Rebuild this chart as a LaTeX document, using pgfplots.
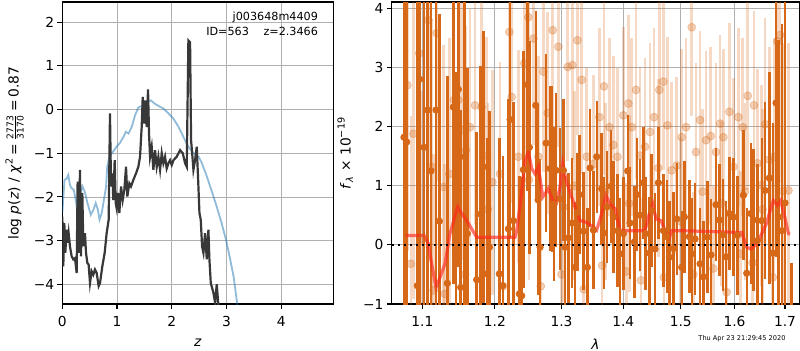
\documentclass[border=0pt]{standalone}
\usepackage{fontspec}
\setmainfont{DejaVu Sans}
\usepackage{pgfplots}
\usepackage{pgfplotstable}
\pgfplotsset{compat=1.18}
\definecolor{darkor}{RGB}{214,104,24}
\definecolor{pzblue}{RGB}{31,119,180}
\definecolor{gridgray}{RGB}{176,176,176}
\definecolor{modred}{RGB}{255,40,30}

\pgfplotstableread{
x y e
1.0760 1.82 5.0
1.0795 1.74 5.0
1.0934 -0.69 5.0
1.0965 2.80 5.0
1.1022 1.65 4.5
1.1071 2.28 4.0
1.1115 1.25 4.0
1.1182 2.28 4.0
1.1227 0.40 3.5
1.1335 -0.65 3.5
1.1417 2.33 3.0
1.1454 -0.07 3.0
1.1486 2.63 3.0
1.1518 -0.72 3.0
1.1573 1.49 2.8
1.1611 0.19 2.8
1.1741 -0.59 2.5
1.1798 0.52 2.5
1.1836 1.32 2.3
1.1884 -0.49 2.3
1.1922 -0.04 2.3
1.2065 -0.49 2.3
1.2114 -0.69 2.2
1.2197 0.27 2.2
1.2221 2.12 2.0
1.2270 0.41 2.0
1.2358 -0.83 2.0
1.2393 -0.86 2.0
1.2418 1.27 2.0
1.2478 2.71 1.8
1.2508 1.65 1.8
1.2604 2.36 1.6
1.2639 0.76 1.6
1.2670 -0.04 1.5
1.2761 1.72 1.5
1.2823 1.29 1.4
1.2848 1.28 1.4
1.2884 0.69 1.3
1.2915 1.26 1.3
1.2977 0.78 1.2
1.3029 1.26 1.2
1.3055 -0.04 1.2
1.3107 0.12 1.1
1.3160 0.37 1.1
1.3213 -0.38 1.1
1.3250 0.55 1.0
1.3282 0.85 1.0
1.3346 0.23 1.0
1.3410 -0.38 1.0
1.3453 1.30 1.0
1.3507 0.25 1.0
1.3561 1.49 0.95
1.3642 0.95 0.95
1.3681 0.20 0.95
1.3725 0.64 0.95
1.3796 0.99 0.95
1.3835 0.47 0.95
1.3907 0.24 0.95
1.3946 -0.15 0.95
1.4002 0.19 0.95
1.4075 1.25 0.95
1.4114 0.37 0.95
1.4188 0.05 0.95
1.4228 0.85 0.95
1.4285 0.50 0.95
1.4342 1.05 0.95
1.4382 0.19 0.95
1.4446 -0.14 0.95
1.4486 0.58 0.95
1.4544 -0.07 0.95
1.4603 1.05 0.95
1.4691 0.24 0.95
1.4750 0.14 0.95
1.4797 -0.21 0.95
1.4868 -0.06 0.95
1.4928 0.44 0.95
1.5018 -0.38 0.95
1.5066 0.47 0.95
1.5157 0.14 0.95
1.5199 -0.15 0.95
1.5260 0.10 0.95
1.5352 -0.32 0.95
1.5413 -0.54 0.95
1.5487 0.13 0.95
1.5556 -0.17 0.95
1.5649 0.68 0.95
1.5712 0.42 0.95
1.5775 0.17 0.95
1.5838 -0.20 0.95
1.5902 0.53 0.95
1.5978 0.47 1.0
1.6056 0.16 1.0
1.6172 0.84 1.1
1.6237 -0.48 1.1
1.6315 0.53 1.2
1.6367 0.42 1.2
1.6446 0.07 1.3
1.6532 0.41 1.4
1.6598 0.92 1.5
1.6684 1.13 1.8
1.6751 -0.14 2.2
1.6818 2.40 2.6
1.6866 0.47 3.0
1.6933 0.24 3.5
1.7001 0.71 3.5
1.7137 -1.60 1.3
}\darktab

\pgfplotstableread{
x y e
1.0804 2.70 2.8
1.0850 -0.32 2.5
1.0882 1.88 2.8
1.0960 3.24 2.8
1.1000 0.10 2.5
1.1079 3.80 2.6
1.1124 1.32 2.5
1.1150 -0.77 2.3
1.1191 3.58 2.5
1.1281 0.98 2.4
1.1300 -0.83 2.2
1.1362 1.20 2.3
1.1426 2.45 2.2
1.1486 2.45 2.2
1.1532 1.94 2.2
1.1580 -0.50 2.0
1.1592 1.60 2.1
1.1648 1.99 2.0
1.1718 2.36 2.0
1.1812 2.33 2.0
1.1884 1.51 2.0
1.1900 0.60 1.8
1.1964 1.06 1.9
1.2075 1.20 1.9
1.2120 -0.70 1.8
1.2211 3.60 1.8
1.2245 2.50 1.8
1.2343 1.49 1.8
1.2433 3.07 1.8
1.2493 3.85 1.8
1.2500 1.10 1.7
1.2568 3.49 1.8
1.2644 1.49 1.7
1.2680 -0.70 1.7
1.2720 2.93 1.7
1.2786 2.23 1.7
1.2863 3.63 1.7
1.2951 3.35 1.7
1.3000 -0.50 1.6
1.3029 0.64 1.6
1.3097 3.01 1.6
1.3170 3.04 1.6
1.3200 1.00 1.6
1.3250 3.46 1.6
1.3319 2.79 1.6
1.3350 -0.75 1.5
1.3399 1.49 1.5
1.3507 1.37 1.5
1.3604 2.16 1.5
1.3650 -0.35 1.5
1.3681 2.68 1.5
1.3700 0.90 1.5
1.3769 1.99 1.5
1.3835 1.69 1.5
1.3902 1.49 1.5
1.4002 2.19 1.5
1.4050 -0.45 1.5
1.4087 2.39 1.5
1.4100 0.70 1.5
1.4143 1.99 1.5
1.4217 2.62 1.5
1.4285 1.51 1.5
1.4300 -0.60 1.4
1.4371 1.66 1.5
1.4457 1.91 1.5
1.4527 2.16 1.5
1.4600 1.30 1.5
1.4620 2.62 1.5
1.4691 2.76 1.5
1.4700 -0.55 1.4
1.4762 2.02 1.5
1.4839 1.26 1.5
1.4928 1.34 1.5
1.5000 0.40 1.4
1.5018 1.82 1.5
1.5097 1.99 1.5
1.5199 3.68 1.5
1.5230 -0.50 1.4
1.5279 1.57 1.5
1.5352 2.11 1.5
1.5400 0.90 1.4
1.5463 1.77 1.5
1.5550 1.84 1.5
1.5600 -0.40 1.4
1.5649 1.57 1.5
1.5725 2.05 1.5
1.5750 0.70 1.4
1.5788 1.82 1.5
1.5850 -0.80 1.4
1.5902 2.25 1.5
1.5978 1.32 1.5
1.6075 2.16 1.5
1.6120 -0.15 1.4
1.6159 1.99 1.5
1.6200 0.90 1.5
1.6256 2.52 1.6
1.6350 -0.30 1.5
1.6380 2.36 1.6
1.6446 1.38 1.6
1.6532 1.01 1.7
1.6550 0.60 1.7
1.6598 2.04 1.8
1.6684 1.44 1.9
1.6750 -0.55 2.0
1.6778 1.49 2.0
1.6845 3.44 2.2
1.6899 3.55 2.5
1.6953 0.91 2.5
1.7069 0.92 2.5
}\lighttab

\begin{document}
\begin{tikzpicture}[font=\fontsize{6.9}{8.3}\selectfont]
\useasboundingbox (0,0) rectangle (400pt,175pt);
\pgfplotsset{
  mystyle/.style={
    scale only axis, height=151pt, anchor=south west,
    grid=major, grid style={line width=0.4pt, draw=gridgray},
    axis line style={line width=0.55pt},
    tick align=outside, major tick length=2.4pt,
    tick style={line width=0.55pt, black},
    xtick pos=left, ytick pos=left,
    every tick label/.append style={inner sep=1.5pt},
    xticklabel style={yshift=-2pt},
    every axis x label/.append style={yshift=-1pt},
  }
}
% ---------------- left panel ----------------
\begin{axis}[mystyle, at={(31.15pt,23pt)}, width=135.5pt,
  xmin=0, xmax=4.95, ymin=-4.45, ymax=2.46,
  xtick={0,1,2,3,4}, xticklabels={0,1,2,3,4},
  ytick={-4,-3,-2,-1,0,1,2}, yticklabels={−4,−3,−2,−1,0,1,2},
  xlabel={\textit{z}},
  ylabel={log \textit{p}(\textit{z}) / \textit{χ}\textsuperscript{2}\,=\,$\frac{\mbox{\fontsize{4.6}{5}\selectfont 2773}}{\mbox{\fontsize{4.6}{5}\selectfont 3170}}$\,=\,0.87},
]
\addplot[pzblue, opacity=0.5, line width=0.9pt] coordinates {
(0,-2.37) (0.04,-1.61) (0.08,-1.58) (0.11,-1.5) (0.14,-1.73) (0.17,-1.8) (0.21,-1.84) (0.25,-2.1) (0.27,-2.29) (0.31,-1.99) (0.37,-1.76) (0.41,-1.88) (0.46,-2.14) (0.52,-2.41) (0.57,-2.29) (0.61,-2.14) (0.65,-2.29) (0.68,-2.52) (0.72,-2.37) (0.76,-2.07) (0.80,-1.76) (0.82,-1.31) (0.86,-1.08) (0.93,-0.96) (0.99,-0.85) (1.05,-0.77) (1.12,-0.62) (1.16,-0.51) (1.21,-0.55) (1.27,-0.39) (1.33,-0.13) (1.39,0.05) (1.45,0.08) (1.54,0.17) (1.62,0.21) (1.68,0.14) (1.76,0.08) (1.85,0.02) (1.94,-0.09) (2.03,-0.21) (2.12,-0.39) (2.21,-0.62) (2.30,-0.85) (2.40,-1.0) (2.49,-1.08) (2.55,-1.23) (2.64,-1.53) (2.73,-1.87) (2.82,-2.22) (2.91,-2.6) (2.99,-2.98) (3.07,-3.45) (3.13,-3.83) (3.19,-4.4) (3.24,-4.8)
};
\addplot[black!78, line width=1.1pt] coordinates {
(0,-2.45) (0.018,-3.59) (0.037,-2.60) (0.055,-3.28) (0.079,-2.75) (0.098,-3.05) (0.116,-2.83) (0.140,-3.13) (0.171,-3.36) (0.201,-3.43) (0.232,-3.40) (0.262,-3.74) (0.280,-1.65) (0.299,-3.28) (0.323,-1.38) (0.341,-3.36) (0.366,-1.91) (0.384,-3.13) (0.414,-2.83) (0.433,-3.28) (0.457,-3.51) (0.481,-3.55) (0.506,-3.97) (0.536,-3.70) (0.567,-3.78) (0.597,-3.66) (0.628,-3.74) (0.664,-4.04) (0.689,-3.97) (0.731,-3.59) (0.774,-3.28) (0.810,-2.83) (0.847,-2.52) (0.871,-0.09) (0.890,-1.76) (0.914,-1.46) (0.932,-2.07) (0.957,-1.16) (0.975,-2.14) (0.993,-2.26) (1.018,-1.91) (1.042,-2.37) (1.073,-1.76) (1.103,-2.07) (1.133,-1.84) (1.164,-1.31) (1.188,-1.99) (1.225,-1.69) (1.255,-1.76) (1.298,-1.61) (1.347,-1.46) (1.389,-1.31) (1.420,-1.08) (1.450,-0.40) (1.469,0.29) (1.493,-0.32) (1.517,0.21) (1.542,-0.40) (1.566,0.46) (1.584,-0.55) (1.603,-1.08) (1.633,-0.85) (1.664,-1.38) (1.694,-0.93) (1.725,-1.31) (1.755,-1.08) (1.786,-1.38) (1.816,-1.00) (1.846,-1.23) (1.877,-1.08) (1.907,-1.35) (1.938,-1.23) (1.968,-1.16) (1.999,-1.27) (2.029,-1.16) (2.090,-1.08) (2.151,-0.93) (2.200,-1.00) (2.243,-1.23) (2.273,-1.31) (2.303,1.58) (2.334,1.54) (2.352,-0.70) (2.377,-1.08) (2.395,-1.38) (2.425,-1.16) (2.456,-0.85) (2.486,-1.76) (2.505,-2.37) (2.529,-2.52) (2.553,-3.13) (2.578,-3.28) (2.608,-2.83) (2.639,-3.43) (2.669,-2.75) (2.687,-3.43) (2.712,-3.97) (2.760,-4.19) (2.791,-4.42) (2.821,-4.00) (2.852,-4.50) (2.882,-5.10)
};
\node[anchor=north east, align=right, inner sep=0pt, font=\fontsize{5.6}{7.4}\selectfont] at (rel axis cs:0.945,0.968) {j003648m4409\\ID=563\hspace{1.3em}z=2.3466};
\end{axis}
% ---------------- right panel ----------------
\begin{axis}[mystyle, at={(195.85pt,23pt)}, width=203.8pt,
  xmode=log, xmin=1.0603, xmax=1.7294, ymin=-1, ymax=4.107,
  xtick={1.1,1.2,1.3,1.4,1.5,1.6,1.7}, xticklabels={1.1,1.2,1.3,1.4,1.5,1.6,1.7},
  minor xtick={},
  ytick={-1,0,1,2,3,4}, yticklabels={−1,0,1,2,3,4},
  xlabel={\textit{λ}},
  ylabel={\textit{f}\textsubscript{\textit{λ}} × 10\textsuperscript{−19}},
]
\addplot[color=darkor, only marks, mark=*, mark size=2pt,
  mark options={solid, draw=darkor, fill=darkor, opacity=0.3},
  error bars/.cd, y dir=both, y explicit, error mark=none,
  error bar style={line width=1.3pt, draw=darkor, opacity=0.25}]
  table[x=x, y=y, y error=e] {\lighttab};
\addplot[color=darkor, only marks, mark=*, mark size=1.6pt,
  mark options={solid, draw=darkor, fill=darkor},
  error bars/.cd, y dir=both, y explicit, error mark=none,
  error bar style={line width=1.2pt, draw=darkor}]
  table[x=x, y=y, y error=e] {\darktab};
\addplot[modred, opacity=0.65, line width=1.6pt] coordinates {
(1.0786,0.16) (1.1022,0.16) (1.1079,0.02) (1.1124,-0.32) (1.1182,-0.72) (1.1236,-0.55) (1.1303,-0.32) (1.1371,0.19) (1.1476,0.64) (1.1532,0.53) (1.1602,0.41) (1.1671,0.27) (1.1741,0.13) (1.2294,0.13) (1.2319,0.24) (1.2378,0.75) (1.2443,1.43) (1.2493,1.57) (1.2543,1.29) (1.2594,1.20) (1.2644,1.32) (1.2710,0.81) (1.2761,0.89) (1.2796,0.95) (1.2863,0.75) (1.2925,0.72) (1.2977,0.98) (1.3019,1.37) (1.3071,1.09) (1.3134,0.89) (1.3213,0.64) (1.3293,0.41) (1.3399,0.38) (1.3507,0.30) (1.3561,0.25) (1.3642,0.53) (1.3714,0.84) (1.3780,0.69) (1.3863,0.61) (1.3946,0.24) (1.4002,0.24) (1.4371,0.24) (1.4446,0.53) (1.4504,0.69) (1.4562,0.44) (1.4650,0.41) (1.4739,0.19) (1.4797,0.12) (1.4839,0.24) (1.4988,0.24) (1.6140,0.21) (1.6237,-0.04) (1.6315,-0.07) (1.6400,-0.01) (1.6499,0.13) (1.6631,0.37) (1.6698,0.58) (1.6765,0.75) (1.6845,0.67) (1.6912,0.75) (1.6980,0.53) (1.7069,0.19) (1.7103,0.18)
};
\addplot[black, line width=1pt, dash pattern=on 1.2pt off 1.8pt] coordinates {(1.0603,0) (1.7294,0)};
\end{axis}
\node[font=\fontsize{3.3}{4}\selectfont] at (371pt,5.5pt) {Thu Apr 23 21:29:45 2020};
\end{tikzpicture}
\end{document}
